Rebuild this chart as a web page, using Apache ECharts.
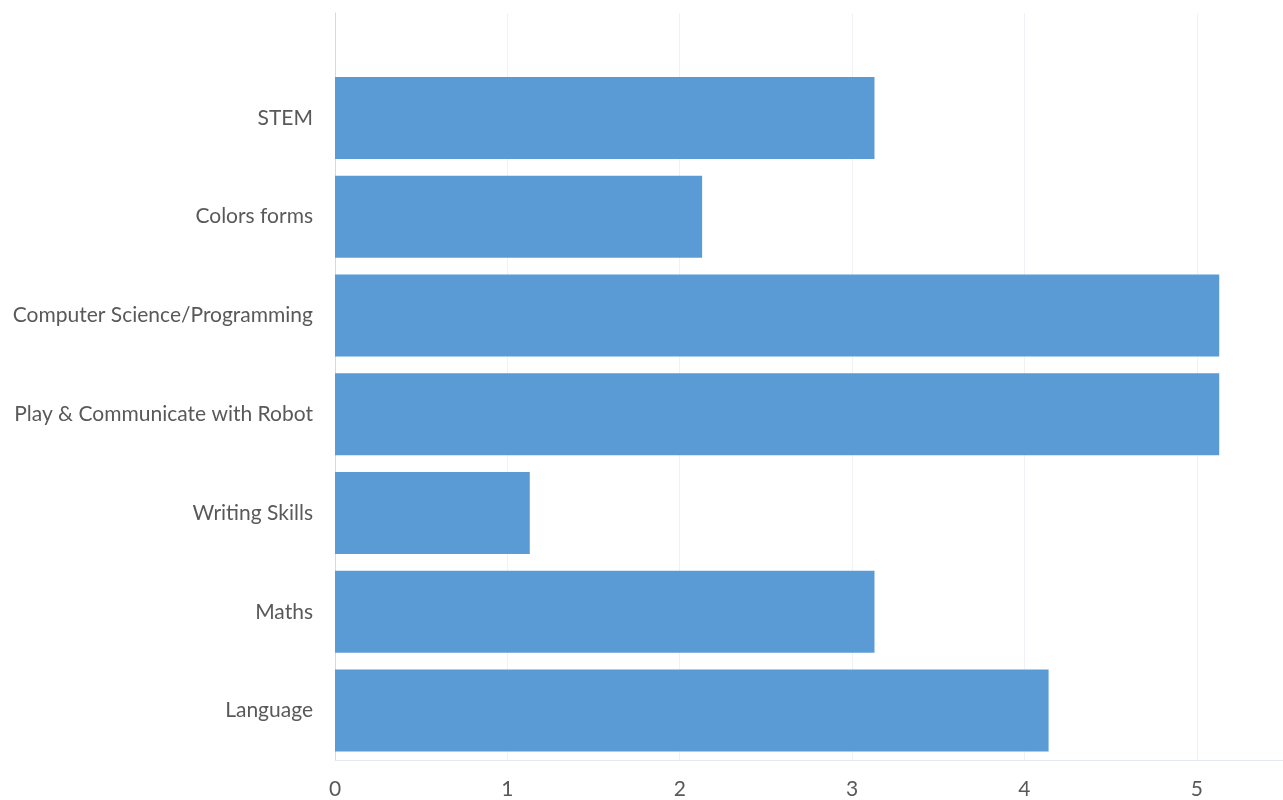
<!DOCTYPE html>
<html>
<head>
<meta charset="utf-8">
<script src="https://cdn.jsdelivr.net/npm/echarts@6/dist/echarts.min.js"></script>
<style>
html,body{margin:0;padding:0;background:#fff;}
#c{width:1283px;height:800px;}
</style>
</head>
<body>
<div id="c"></div>
<script>
const categories = ['Language', 'Maths', 'Writing Skills', 'Play & Communicate with Robot', 'Computer Science/Programming', 'Colors forms', 'STEM'];
const values = [4.14, 3.13, 1.13, 5.13, 5.13, 2.13, 3.13];
const xTicks = [0, 1, 2, 3, 4, 5];

const FONT = 'Lato';
const chart = echarts.init(document.getElementById('c'), null, {renderer: 'canvas'});
const xCommon = {
  type: 'value', min: 0, max: 5.5, interval: 1,
  splitLine: {show: true, showMaxLine: false, lineStyle: {color: '#eef2f6', width: 1}},
  axisTick: {show: false}
};
chart.setOption({
  animation: false,
  grid: [
    {left: 335, right: 0, top: 68.5, bottom: 38.5},
    {left: 335, right: 0, top: 13, height: 55.5}
  ],
  xAxis: [
    Object.assign({}, xCommon, {
      gridIndex: 0,
      axisLine: {show: true, lineStyle: {color: '#e3e9ef', width: 1}},
      axisLabel: {
        show: true, showMaxLabel: false, margin: 19,
        color: '#595959', fontFamily: FONT, fontSize: 21,
        formatter: v => (xTicks.indexOf(v) >= 0 ? String(v) : '')
      }
    }),
    Object.assign({}, xCommon, {
      gridIndex: 1,
      axisLine: {show: false},
      axisLabel: {show: false}
    })
  ],
  yAxis: [
    {
      type: 'category', gridIndex: 0, data: categories,
      axisLine: {show: true, lineStyle: {color: '#d9d9d9', width: 1}},
      axisTick: {show: false},
      splitLine: {show: false},
      axisLabel: {color: '#595959', fontFamily: FONT, fontSize: 21, margin: 22}
    },
    {
      type: 'value', gridIndex: 1, min: 0, max: 1,
      axisLine: {show: true, onZero: false, lineStyle: {color: '#d9d9d9', width: 1}},
      axisTick: {show: false}, axisLabel: {show: false}, splitLine: {show: false}
    }
  ],
  series: [{
    type: 'bar', xAxisIndex: 0, yAxisIndex: 0,
    data: values,
    barCategoryGap: '17%',
    itemStyle: {color: '#5b9bd5'}
  }]
});
</script>
</body>
</html>
